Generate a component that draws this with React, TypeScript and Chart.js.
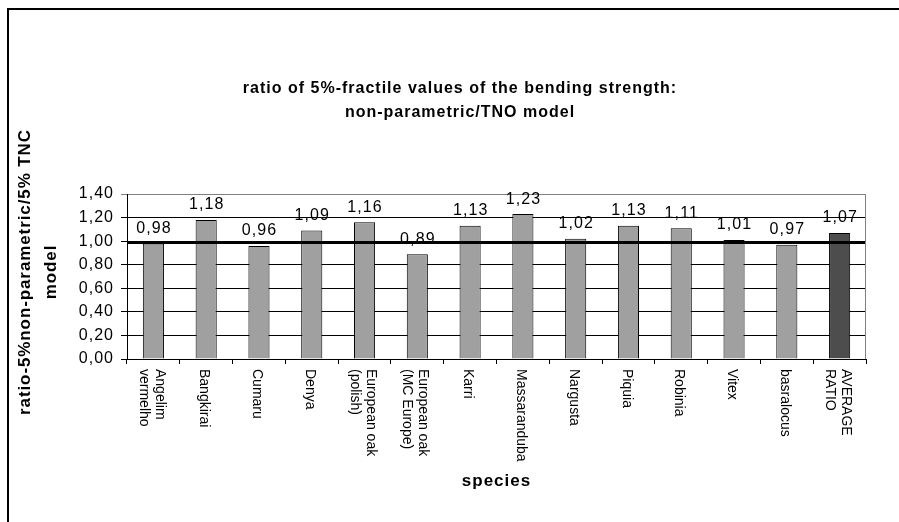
import React, { useEffect, useRef } from "react";
import { Chart, registerables } from "chart.js";

Chart.register(...registerables);

// ---- data ----
const categories: string[][] = [
  ["Angelim", "vermelho"],
  ["Bangkirai"],
  ["Cumaru"],
  ["Denya"],
  ["European oak", "(polish)"],
  ["European oak", "(MC Europe)"],
  ["Karri"],
  ["Massaranduba"],
  ["Nargusta"],
  ["Piquia"],
  ["Robinia"],
  ["Vitex"],
  ["basralocus"],
  ["AVERAGE", "RATIO"],
];
const ratios: number[] = [0.98, 1.18, 0.96, 1.09, 1.16, 0.89, 1.13, 1.23, 1.02, 1.13, 1.11, 1.01, 0.97, 1.07];
const yTickLabels: string[] = ["0,00", "0,20", "0,40", "0,60", "0,80", "1,00", "1,20", "1,40"];
const referenceRatio = 1;
const chartTitle: string[] = [
  "ratio of 5%-fractile values of the bending strength:",
  "non-parametric/TNO model",
];
const yAxisTitle: string[] = ["ratio-5%non-parametric/5% TNC", "model"];
const xAxisTitle = "species";

// ---- styles ----
const FONT = '"Liberation Sans", Arial, Helvetica, sans-serif';
const BAR_GRAY = "#a0a0a0";
const BAR_DARK = "#4d4d4d";
const averageIndex = categories.length - 1;

const fmt = (v: number) => v.toFixed(2).replace(".", ",");

const chartPlugin = {
  id: "excelLook",
  beforeDraw(chart: any) {
    (chart.ctx as any).letterSpacing = "1px";
  },
  afterDatasetsDraw(chart: any) {
    const ctx = chart.ctx as any;
    const ca = chart.chartArea;
    const meta = chart.getDatasetMeta(0);
    ctx.save();
    ctx.letterSpacing = "1.1px";
    ctx.font = `16px ${FONT}`;
    ctx.fillStyle = "#000";
    ctx.textAlign = "center";
    ctx.textBaseline = "alphabetic";
    meta.data.forEach((bar: any, i: number) => {
      ctx.fillText(fmt(ratios[i]), bar.x + 0.55, bar.y - 10.5);
    });
    // reference line
    const y = Math.round(chart.scales.y.getPixelForValue(referenceRatio));
    ctx.fillStyle = "#000";
    ctx.fillRect(ca.left, y, ca.right - ca.left, 3);
    ctx.restore();
  },
  afterDraw(chart: any) {
    const ctx = chart.ctx as any;
    const ca = chart.chartArea;
    const xs = chart.scales.x;
    // right plot border
    ctx.save();
    ctx.strokeStyle = "#808080";
    ctx.lineWidth = 1;
    ctx.beginPath();
    ctx.moveTo(Math.round(ca.right) - 0.5, ca.top);
    ctx.lineTo(Math.round(ca.right) - 0.5, ca.bottom);
    ctx.stroke();
    ctx.restore();

    // category labels, rotated reading downward
    ctx.save();
    ctx.letterSpacing = "0px";
    ctx.font = `14px ${FONT}`;
    ctx.fillStyle = "#000";
    ctx.textAlign = "left";
    ctx.textBaseline = "middle";
    categories.forEach((lines, i) => {
      const x = xs.getPixelForValue(i);
      ctx.save();
      ctx.translate(x, ca.bottom + 10);
      ctx.rotate(Math.PI / 2);
      lines.forEach((line, j) => {
        const off = (j - (lines.length - 1) / 2) * 16 + 2;
        ctx.fillText(line, 0, off);
      });
      ctx.restore();
    });
    ctx.restore();

    // y axis title
    ctx.save();
    ctx.letterSpacing = "0.9px";
    ctx.font = `bold 17px ${FONT}`;
    ctx.fillStyle = "#000";
    ctx.textAlign = "center";
    ctx.textBaseline = "middle";
    const cy = (ca.top + ca.bottom) / 2 - 4.5;
    yAxisTitle.forEach((line, j) => {
      ctx.save();
      ctx.translate(ca.left - 102 + j * 26, cy);
      ctx.rotate(-Math.PI / 2);
      ctx.fillText(line, 0, 0);
      ctx.restore();
    });
    ctx.restore();
  },
};

export default function App() {
  const canvasRef = useRef<HTMLCanvasElement | null>(null);

  useEffect(() => {
    if (!canvasRef.current) return;
    const chart = new Chart(canvasRef.current, {
      type: "bar",
      data: {
        labels: categories.map((c) => c.join(" ")),
        datasets: [
          {
            data: ratios,
            backgroundColor: (c: any) => (c.dataIndex === averageIndex ? BAR_DARK : BAR_GRAY),
            borderColor: "#000",
            borderWidth: 1,
            barPercentage: 0.8,
            categoryPercentage: 0.5,
          },
        ],
      },
      options: {
        animation: false,
        responsive: true,
        maintainAspectRatio: false,
        layout: { padding: 0 },
        plugins: {
          legend: { display: false },
          tooltip: { enabled: false },
          title: {
            display: true,
            text: chartTitle,
            color: "#000",
            font: { family: FONT, size: 16, weight: "bold", lineHeight: 1.47 },
            padding: { top: 77, bottom: 70 },
          },
        },
        scales: {
          x: {
            grid: {
              display: true,
              drawOnChartArea: false,
              drawTicks: true,
              tickLength: 5,
              color: "#000",
              offset: true,
            },
            border: { display: true, color: "#000", width: 1 },
            ticks: { display: false },
            title: {
              display: true,
              text: xAxisTitle,
              color: "#000",
              font: { family: FONT, size: 17, weight: "bold" },
              padding: { top: 0, bottom: 30 },
            },
            afterFit: (scale: any) => {
              scale.height = 163;
            },
          },
          y: {
            min: 0,
            max: 1.4,
            grid: {
              color: (c: any) => (c.tick && c.tick.value >= 1.39 ? "#808080" : "#000"),
              tickLength: 6,
              drawTicks: true,
            },
            border: { display: true, color: "#000", width: 1 },
            ticks: {
              stepSize: 0.2,
              color: "#000",
              padding: 7,
              font: { family: FONT, size: 16 },
              callback: (_v: any, index: number) => yTickLabels[index],
            },
            afterFit: (scale: any) => {
              scale.width = 127;
            },
          },
          yRight: {
            type: "linear",
            position: "right",
            display: true,
            grid: { display: false, drawTicks: false },
            border: { display: false },
            ticks: { display: false },
            afterFit: (scale: any) => {
              scale.width = 54;
            },
          },
        },
      } as any,
      plugins: [chartPlugin],
    });
    return () => chart.destroy();
  }, []);

  return (
    <div
      style={{
        position: "absolute",
        left: 0,
        top: 0,
        width: 899,
        height: 522,
        overflow: "hidden",
        background: "#fff",
      }}
    >
      <div style={{ position: "absolute", left: 0, top: 0, width: 920, height: 522 }}>
        <canvas ref={canvasRef} />
      </div>
      <div
        style={{
          position: "absolute",
          left: 7,
          top: 8,
          width: 1000,
          height: 600,
          borderLeft: "2px solid #000",
          borderTop: "2px solid #000",
          pointerEvents: "none",
        }}
      />
    </div>
  );
}
